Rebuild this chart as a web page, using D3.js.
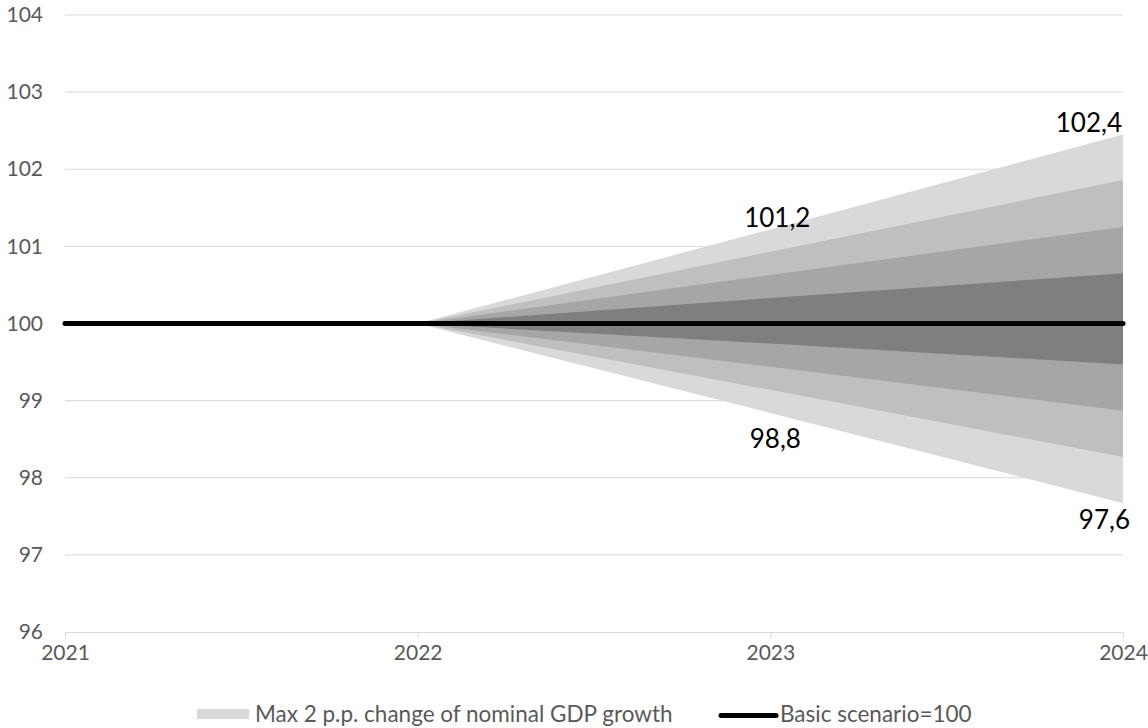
<!DOCTYPE html>
<html><head><meta charset="utf-8">
<script src="https://cdn.jsdelivr.net/npm/d3@7"></script>
<style>body{margin:0;background:#fff}svg{display:block}text{font-family:Lato,"Open Sans",sans-serif}</style>
</head><body><svg id="c" width="1148" height="728"></svg>
<script>
const years = [2021, 2022, 2023, 2024];
const basic = [100, 100, 100, 100];
// fan boundaries (from 2022 on), innermost to outermost
const fanYears = [2022, 2023, 2024];
const upper1 = [100, 100.33, 100.65];
const upper2 = [100, 100.63, 101.25];
const upper3 = [100, 100.93, 101.86];
const upper4 = [100, 101.22, 102.45];
const lower1 = [100, 99.74, 99.47];
const lower2 = [100, 99.44, 98.87];
const lower3 = [100, 99.14, 98.27];
const lower4 = [100, 98.84, 97.67];
const bandColors = ["#d9d9d9", "#bfbfbf", "#a6a6a6", "#7f7f7f"];
const yTicks = [96, 97, 98, 99, 100, 101, 102, 103, 104];
const labels = [
  {year: 2023, value: 101.2, text: "101,2", pos: "above"},
  {year: 2023, value: 98.8, text: "98,8", pos: "below"},
  {year: 2024, value: 102.45, text: "102,4", pos: "aboveEnd"},
  {year: 2024, value: 97.67, text: "97,6", pos: "belowEnd"}
];
const legendItems = ["Max 2 p.p. change of nominal GDP growth", "Basic scenario=100"];

const svg = d3.select("#c");
const x = d3.scaleLinear().domain([2021, 2024]).range([65, 1123]);
const y = d3.scaleLinear().domain([96, 104]).range([632, 15]);

// gridlines
svg.append("g").selectAll("line").data(yTicks.filter(d => d > 96)).join("line")
  .attr("x1", x(2021)).attr("x2", x(2024))
  .attr("y1", d => y(d)).attr("y2", d => y(d))
  .attr("stroke", "#d9d9d9").attr("stroke-width", 1);

// fan bands: outermost first
const bands = [[lower4, upper4], [lower3, upper3], [lower2, upper2], [lower1, upper1]];
const area = d3.area().x((d, i) => x(fanYears[i])).y0(d => y(d[0])).y1(d => y(d[1]));
bands.forEach((b, k) => {
  const pts = fanYears.map((yr, i) => [b[0][i], b[1][i]]);
  svg.append("path").datum(pts).attr("d", area).attr("fill", bandColors[k]);
});

// x axis
const xAxis = d3.axisBottom(x).tickValues(years).tickFormat(d3.format("d")).tickSize(6).tickPadding(7);
const gx = svg.append("g").attr("transform", `translate(0,${y(96)})`).call(xAxis);
gx.select(".domain").attr("stroke", "#d9d9d9");
gx.selectAll(".tick line").attr("stroke", "#d9d9d9");
gx.selectAll(".tick text").attr("fill", "#595959").style("font-size", "21px").style("font-family", "Lato");

// y axis
const yAxis = d3.axisLeft(y).tickValues(yTicks).tickFormat(d3.format("d")).tickSize(0).tickPadding(22);
const gy = svg.append("g").attr("transform", `translate(${x(2021)},0)`).call(yAxis);
gy.select(".domain").remove();
gy.selectAll(".tick text").attr("fill", "#595959").style("font-size", "21px").style("font-family", "Lato");

// basic line
svg.append("path").datum(years.map((yr, i) => [yr, basic[i]]))
  .attr("d", d3.line().x(d => x(d[0])).y(d => y(d[1])))
  .attr("fill", "none").attr("stroke", "#000").attr("stroke-width", 5).attr("stroke-linecap", "round");

// labels
labels.forEach(l => {
  let tx = x(l.year), ty = y(l.value), anchor = "middle";
  if (l.pos === "above") { tx += 7; ty -= 4; }
  if (l.pos === "below") { tx += 5; ty += 32; }
  if (l.pos === "aboveEnd") { anchor = "end"; tx -= 1; ty -= 3; }
  if (l.pos === "belowEnd") { anchor = "end"; tx += 7; ty += 26; }
  svg.append("text").attr("x", tx).attr("y", ty).attr("text-anchor", anchor)
    .attr("fill", "#000").style("font-size", "26px").text(l.text);
});

// legend
const lg = svg.append("g");
lg.append("rect").attr("x", 197).attr("y", 709).attr("width", 52).attr("height", 10).attr("fill", bandColors[0]);
lg.append("text").attr("x", 255).attr("y", 714).attr("dy", "0.35em").attr("fill", "#595959")
  .style("font-size", "22.5px").text(legendItems[0]);
lg.append("line").attr("x1", 721).attr("x2", 776).attr("y1", 715.5).attr("y2", 715.5)
  .attr("stroke", "#000").attr("stroke-width", 5).attr("stroke-linecap", "round");
lg.append("text").attr("x", 780).attr("y", 714).attr("dy", "0.35em").attr("fill", "#595959")
  .style("font-size", "22.5px").text(legendItems[1]);
</script></body></html>
